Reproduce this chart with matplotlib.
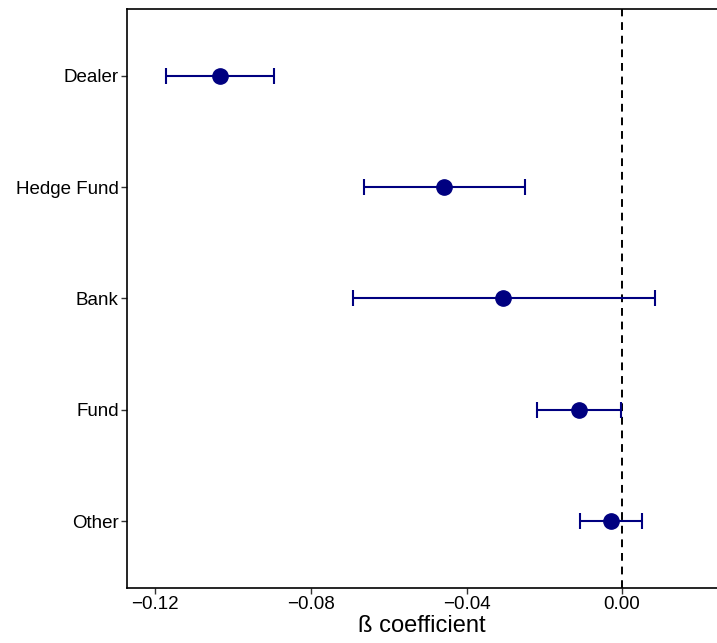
import numpy as np
import matplotlib.pyplot as plt

plt.rcParams['font.family'] = ['Liberation Sans', 'DejaVu Sans']

groups = ['Dealer', 'Hedge Fund', 'Bank', 'Fund', 'Other']
coef = [-0.1034, -0.0457, -0.0305, -0.0111, -0.0029]
lower = [-0.1174, -0.0664, -0.0693, -0.0219, -0.0108]
upper = [-0.0894, -0.0249, 0.0084, -0.0003, 0.0051]
xticks = [-0.12, -0.08, -0.04, 0.00]

coef = np.array(coef)
err = [coef - np.array(lower), np.array(upper) - coef]
ypos = np.arange(len(groups), 0, -1)

fig = plt.figure(figsize=(7.17, 6.43), dpi=100)
ax = fig.add_axes([127/717, 1 - 588/643, 1 - 127/717, (588 - 9)/643])

ax.axvline(0, color='black', ls=(0, (4, 3)), lw=1.4, zorder=1)
ax.errorbar(coef, ypos, xerr=err, fmt='o', color='navy', ecolor='navy',
            elinewidth=1.5, capsize=5.5, capthick=1.5, markersize=11, zorder=3)

ax.set_xlim(-0.1273, 0.0244)
ax.set_ylim(0.4, 5.6)
ax.set_yticks(ypos)
ax.set_yticklabels(groups)
ax.set_xticks(xticks)
ax.set_xticklabels([f'{t:.2f}'.replace('-', '\u2212') for t in xticks])
ax.tick_params(labelsize=13.5, length=4, width=1, color='#333333', pad=2)
ax.set_xlabel('ß coefficient', fontsize=17, labelpad=1)
ax.spines['right'].set_visible(False)
for s in ['left', 'top', 'bottom']:
    ax.spines[s].set_linewidth(1.2)

fig.savefig('out.png', dpi=100)
